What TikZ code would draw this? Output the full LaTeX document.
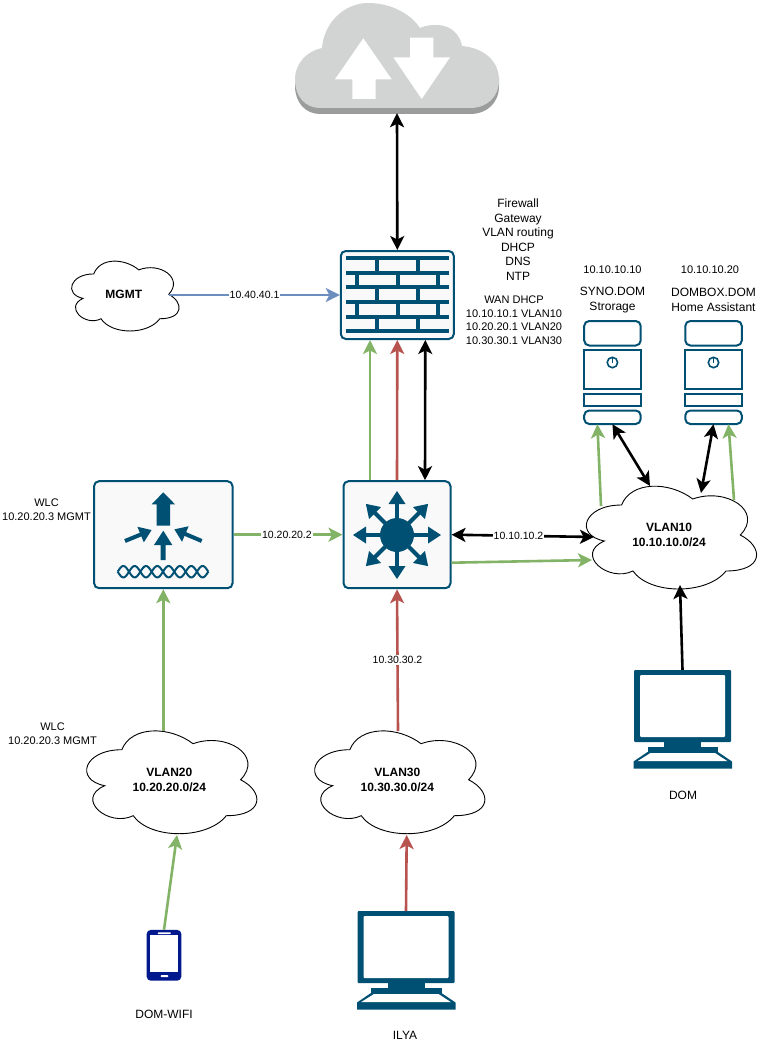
\documentclass[tikz,border=0pt]{standalone}
\usepackage{fontspec}
\setmainfont{Liberation Sans}
\usetikzlibrary{arrows.meta,calc}
\definecolor{iconblue}{HTML}{005073}
\definecolor{boxfill}{HTML}{F9F9F9}
\definecolor{phoneblue}{HTML}{00188D}
\definecolor{wanlight}{HTML}{D2D3D3}
\definecolor{wandark}{HTML}{9B9D9D}
\definecolor{wiregreen}{HTML}{82B366}
\definecolor{wirered}{HTML}{B85450}
\definecolor{wireblue}{HTML}{6C8EBF}
\tikzset{
	>={Stealth[length=14pt,width=14pt,inset=3.5pt]},
	wire/.style={line width=2.6pt},
	devbox/.style={draw=iconblue, fill=boxfill, line width=2pt, rounded corners=5pt, inner sep=0pt},
	slot/.style={inner sep=0pt, minimum width=#1},
	iconline/.style={draw=iconblue, line width=2pt},
	netlabel/.style={font=\fontsize{11}{13.6}\selectfont, align=center, inner sep=0pt},
	hostlabel/.style={font=\fontsize{12}{15}\selectfont, align=center, inner sep=0pt},
	wirelabel/.style={font=\fontsize{10.5}{13}\selectfont, fill=white, text=black, inner sep=1pt},
	cloudtext/.style={font=\fontsize{12}{15.5}\selectfont\bfseries, align=center, inner sep=0pt}
}
\def\netcloud#1(#2,#3)(#4,#5)#6{
	\begin{scope}[shift={({#2-#4/2},{#3-#5/2})},xscale=#4,yscale=#5]
		\draw[fill=white, line width=0.9pt] (0.25,0.25) .. controls (0.05,0.25) and (0,0.5) .. (0.16,0.55) .. controls (0,0.66) and (0.18,0.9) .. (0.31,0.8) .. controls (0.4,1) and (0.7,1) .. (0.8,0.8) .. controls (1,0.8) and (1,0.6) .. (0.875,0.5) .. controls (1,0.3) and (0.8,0.1) .. (0.625,0.2) .. controls (0.5,0.05) and (0.3,0.05) .. (0.25,0.25) -- cycle;
	\end{scope}
	\node[cloudtext] (#1) at (#2,#3) {#6};
}
\def\serverbox(#1,#2){
	\begin{scope}[shift={(#1,#2)}]
		\draw[iconline, rounded corners=5pt] (0,24.5) -- (0,0) -- (56.5,0) -- (56.5,24.5) -- cycle;
		\draw[iconline] (0,28.5) rectangle (56.5,68);
		\draw[iconline] (0,73) rectangle (56.5,85);
		\draw[iconline, rounded corners=5pt] (0,89.5) -- (0,103) -- (56.5,103) -- (56.5,89.5) -- cycle;
		\draw[iconline, line width=1.6pt] (28.2,41.5) circle (5.2);
		\draw[iconline, line width=1.6pt] (28.2,41.5) -- (28.2,36);
	\end{scope}
}
\def\screenbox(#1,#2){
	\begin{scope}[shift={(#1,#2)}]
		\fill[iconblue, rounded corners=1pt] (0,0) rectangle (97,72);
		\fill[white, rounded corners=1pt] (6,5) rectangle (91,67);
		\fill[iconblue] (30,72) rectangle (67,76.5);
		\fill[iconblue] (13.5,76.5) rectangle (84,82.5);
		\fill[iconblue] (13.5,82) -- (-0.5,91.5) -- (-0.5,98.5) -- (98,98.5) -- (98,91.5) -- (84,82) -- cycle;
		\fill[white] (16.5,83) -- (81,83) -- (93.5,91.2) -- (3.5,91.2) -- cycle;
	\end{scope}
}
\def\hubspoke#1{
	\begin{scope}[rotate around={#1:(397,535)}]
		\fill[iconblue] (395,535) rectangle (399,503);
		\fill[iconblue] (397,491) -- (405.5,504) -- (388.5,504) -- cycle;
	\end{scope}
}

\begin{document}
\begin{tikzpicture}[x=1pt,y=-1pt]
	\useasboundingbox (0,0) rectangle (769,1051);
	%%%%% internet %%%%%
	\node[inner sep=0pt, minimum width=204pt, minimum height=112pt] (wan) at (397,58) {};
	\fill[wandark] (295,86) .. controls (295,102) and (305,114) .. (320,114) -- (470,114) .. controls (487,114) and (499,103) .. (499,86) -- (499,78) -- (295,78) -- cycle;
	\fill[wanlight] (295,80) .. controls (295,63) and (307,51) .. (322,48) .. controls (324,22) and (345,3) .. (368,3) .. controls (390,3) and (410,13) .. (420,28) .. controls (427,25) and (432,25) .. (437,25) .. controls (450,25) and (460,34) .. (462,46) .. controls (485,48) and (499,62) .. (499,80) .. controls (499,97) and (487,108) .. (470,108) -- (320,108) .. controls (305,108) and (295,96) .. (295,80) -- cycle;
	\fill[white] (363.3,38.3) -- (391.7,79.3) -- (375.7,79.3) -- (375.7,99) -- (352.3,99) -- (352.3,79.3) -- (335,79.3) -- cycle;
	\fill[white] (410,37.7) -- (433.3,37.7) -- (433.3,57.3) -- (450,57.3) -- (421.7,99) -- (393.3,57.3) -- (410,57.3) -- cycle;

	%%%%% firewall %%%%%
	\node[devbox, minimum width=113pt, minimum height=88pt] (fw) at (397.3,295) {};
	\fill[iconblue] (345.7,256) rectangle (449.3,260);
	\fill[iconblue] (345.7,270.7) rectangle (449.3,274.7);
	\fill[iconblue] (345.7,285.3) rectangle (449.3,289.3);
	\fill[iconblue] (345.7,300) rectangle (449.3,304);
	\fill[iconblue] (345.7,314.7) rectangle (449.3,318.7);
	\fill[iconblue] (345.7,329.3) rectangle (449.3,333.3);
	\fill[iconblue] (375.3,258) rectangle (379.3,272);
	\fill[iconblue] (416,258) rectangle (420,272);
	\fill[iconblue] (355.3,272) rectangle (359.3,287);
	\fill[iconblue] (395.7,272) rectangle (399.7,287);
	\fill[iconblue] (436,272) rectangle (440,287);
	\fill[iconblue] (375.3,287) rectangle (379.3,302);
	\fill[iconblue] (416,287) rectangle (420,302);
	\fill[iconblue] (355.3,302) rectangle (359.3,316);
	\fill[iconblue] (395.7,302) rectangle (399.7,316);
	\fill[iconblue] (436,302) rectangle (440,316);
	\fill[iconblue] (375.3,316) rectangle (379.3,331);
	\fill[iconblue] (416,316) rectangle (420,331);

	%%%%% core switch %%%%%
	\node[devbox, minimum width=107pt, minimum height=107pt] (sw) at (397,534.7) {};
	\fill[iconblue] (397,535) circle (17);
	\hubspoke{0}
	\hubspoke{45}
	\hubspoke{90}
	\hubspoke{135}
	\hubspoke{180}
	\hubspoke{225}
	\hubspoke{270}
	\hubspoke{315}

	%%%%% controller %%%%%
	\node[devbox, minimum width=138.5pt, minimum height=107pt] (wlc) at (163.3,534.7) {};
	\fill[iconblue] (163.3,492.3) -- (175,504.3) -- (170,504.3) -- (170,525.7) -- (156.7,525.7) -- (156.7,504.3) -- (151.7,504.3) -- cycle;
	\fill[iconblue] (163.3,530.7) -- (172.3,545) -- (165.7,545) -- (165.7,560) -- (160.7,560) -- (160.7,545) -- (154,545) -- cycle;
	\draw[iconblue, line width=4pt, -{Triangle[length=12pt,width=16pt]}] (125,541) -- (151.7,530);
	\draw[iconblue, line width=4pt, -{Triangle[length=12pt,width=16pt]}] (201.7,541) -- (174.3,529.3);
	\draw[iconblue, line width=2pt] plot[domain=0:90.6, samples=90] ({117.7+\x},{571.7+5.7*sin(\x*180/11.32)});
	\draw[iconblue, line width=2pt] plot[domain=0:90.6, samples=90] ({117.7+\x},{571.7-5.7*sin(\x*180/11.32)});

	%%%%% servers %%%%%
	\serverbox(584.2,321)
	\serverbox(685.3,321)
	\node[slot=56.5pt, minimum height=103pt] (syno) at (612.4,372.5) {};
	\node[slot=56.5pt, minimum height=103pt] (dombox) at (713.5,372.5) {};

	%%%%% hosts %%%%%
	\screenbox(634,670)
	\screenbox(357.5,911)
	\node[slot=97pt, minimum height=98pt] (domhost) at (682.5,719) {};
	\node[slot=97pt, minimum height=98pt] (ilyahost) at (406,960) {};
	\node[fill=phoneblue, rounded corners=4pt, inner sep=0pt, minimum width=34.6pt, minimum height=50.7pt] (phone) at (164,955.3) {};
	\fill[white] (150,935) rectangle (178.3,971.7);
	\fill[white, rounded corners=0.8pt] (157.7,932.3) rectangle (171,934);
	\fill[white, rounded corners=0.8pt] (160.7,975) rectangle (168.3,977);

	%%%%% clouds %%%%%
	\netcloud{mgmt}(123.8,294.3)(120,81.5){MGMT}
	\netcloud{vlanten}(669,535)(190,120){VLAN10\\10.10.10.0/24}
	\netcloud{vlantwenty}(169.3,779.7)(190,120){VLAN20\\10.20.20.0/24}
	\netcloud{vlanthirty}(397.3,779.7)(190,120){VLAN30\\10.30.30.0/24}

	%%%%% links %%%%%
	\draw[wire, <->] ([yshift=1pt]wan.south) -- (fw.north);
	\draw[wire, wireblue, ->] ([shift={(45.5,0.7)}]mgmt.center) -- (fw.west) node[pos=0.5, wirelabel] (mgmtip) {10.40.40.1};
	\draw[wire, wiregreen, ->] ([xshift=-27pt]sw.north) -- ([xshift=-27.3pt]fw.south);
	\draw[wire, wirered, ->] (sw.north) -- (fw.south);
	\draw[wire, <->] ([xshift=28pt]sw.north) -- ([xshift=28pt]fw.south);
	\draw[wire, wiregreen, ->] (wlc.east) -- (sw.west) node[pos=0.49, wirelabel] (wlcip) {10.20.20.2};
	\draw[wire, <->] (sw.east) -- ([shift={(-75,2)}]vlanten.center) node[pos=0.47, wirelabel] (swip) {10.10.10.2};
	\draw[wire, wiregreen, ->] ([shift={(0,28)}]sw.east) -- ([shift={(-77,25)}]vlanten.center);
	\draw[wire, wirered, ->] ([shift={(0.7,-48.7)}]vlanthirty.center) -- (sw.south) node[pos=0.5, wirelabel] (thirtyip) {10.30.30.2};
	\draw[wire, wiregreen, ->] ([shift={(-6,-48.7)}]vlantwenty.center) -- (wlc.south);
	\draw[wire, wiregreen, ->] (phone.north) -- ([shift={(7.7,55.3)}]vlantwenty.center);
	\draw[wire, wirered, ->] (ilyahost.north) -- ([shift={(9.4,55.3)}]vlanthirty.center);
	\draw[wire, ->] (domhost.north) -- ([shift={(11,50)}]vlanten.center);
	\draw[wire, wiregreen, ->] ([shift={(-68,-29)}]vlanten.center) -- ([xshift=-15pt]syno.south);
	\draw[wire, <->] (syno.south) -- ([shift={(-19,-49)}]vlanten.center);
	\draw[wire, <->] (dombox.south) -- ([shift={(32,-42)}]vlanten.center);
	\draw[wire, wiregreen, ->] ([shift={(65,-35)}]vlanten.center) -- ([xshift=15pt]dombox.south);

	%%%%% labels %%%%%
	\node[hostlabel, font=\fontsize{12}{14.5}\selectfont] (fwroles) at (518,239.5) {Firewall\\Gateway\\VLAN routing\\DHCP\\DNS\\NTP};
	\node[netlabel] (fwaddr) at (514,320.3) {WAN DHCP\\10.10.10.1 VLAN10\\10.20.20.1 VLAN20\\10.30.30.1 VLAN30};
	\node[netlabel] (synoip) at (612.5,270) {10.10.10.10};
	\node[netlabel] (domboxip) at (710,270) {10.10.10.20};
	\node[hostlabel] (synoname) at (612.5,300.3) {SYNO.DOM\\Strorage};
	\node[hostlabel] (domboxname) at (713.5,300.3) {DOMBOX.DOM\\Home Assistant};
	\node[netlabel] (wlcaddr) at (46.5,510) {WLC\\10.20.20.3 MGMT};
	\node[netlabel] (wlcvlan) at (52.5,734) {WLC\\10.20.20.3 MGMT};
	\node[hostlabel] (domname) at (683,795) {DOM};
	\node[hostlabel] (ilyaname) at (405,1035) {ILYA};
	\node[hostlabel] (wifiname) at (164,1014) {DOM-WIFI};
\end{tikzpicture}
\end{document}
